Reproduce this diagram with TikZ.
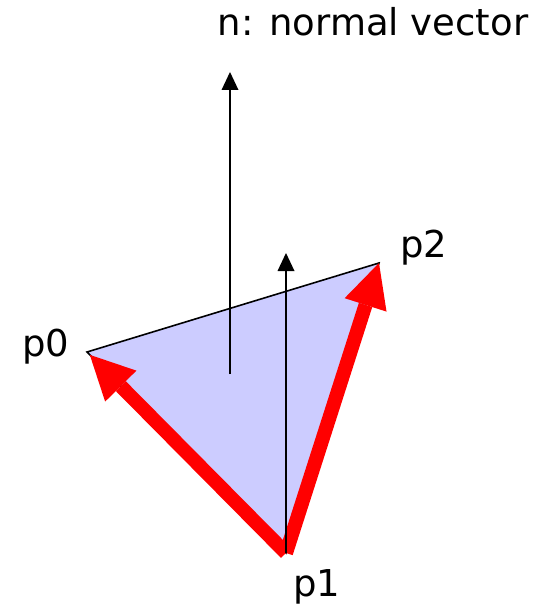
\documentclass[tikz,border=0pt]{standalone}
\usepackage{fontspec}
\setmainfont{DejaVu Sans}
\usetikzlibrary{arrows.meta}
\definecolor{facefill}{HTML}{CCCCFF}
\definecolor{edgered}{HTML}{FF0000}
\begin{document}
\begin{tikzpicture}[x=1pt,y=-1pt,
  lbl/.style={font=\fontsize{37}{44}\selectfont, anchor=base, inner sep=0pt},
  redarrow/.style={draw=edgered, line width=14pt, line cap=butt,
    -{Triangle[length=44pt,width=44pt,line width=0pt]}},
  normalarrow/.style={draw=black, line width=2.2pt,
    -{Triangle[length=18pt,width=17pt,line width=0pt]}}]
\useasboundingbox (0,0) rectangle (549,604);
\coordinate (p0) at (87,352);
\coordinate (p1) at (286,553);
\coordinate (p2) at (379,263);
\coordinate (nbase) at (230,374);
\coordinate (ntip) at (230,72);
\coordinate (mtip) at (286,253);
\filldraw[fill=facefill, draw=black, line width=1.6pt, line join=miter] (p0) -- (p1) -- (p2) -- cycle;
\draw[redarrow, shorten >=4pt] (p1) -- (p0);
\draw[redarrow] (p1) -- (p2);
\draw[normalarrow] (nbase) -- (ntip);
\draw[normalarrow] (p1) -- (mtip);
\node[lbl] (ntext) at (373,36) {n: normal vector};
\node[lbl] (l0) at (46,356) {p0};
\node[lbl] (l2) at (424,257) {p2};
\node[lbl] (l1) at (317,596) {p1};
\end{tikzpicture}
\end{document}
